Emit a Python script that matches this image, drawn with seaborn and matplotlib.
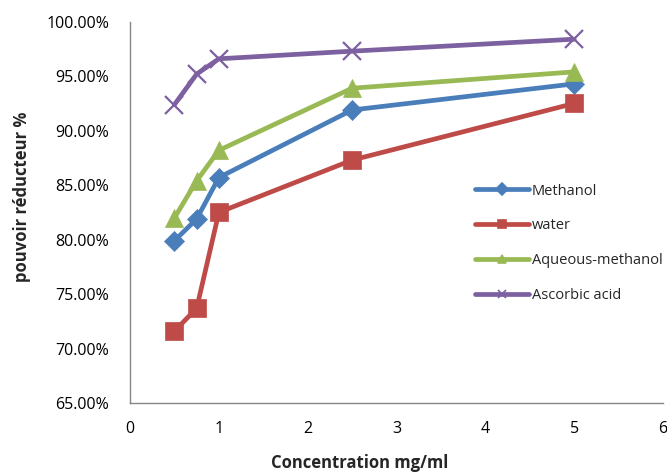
import matplotlib
matplotlib.use("Agg")
import matplotlib.pyplot as plt
from matplotlib.lines import Line2D
from matplotlib.ticker import FuncFormatter, MultipleLocator
import pandas as pd
import seaborn as sns

# Concentrations (mg/ml)
concentration = [0.5, 0.75, 1, 2.5, 5]

# Reducing power (%) per extract
methanol = [79.9, 81.9, 85.7, 91.9, 94.3]
water = [71.6, 73.7, 82.5, 87.3, 92.5]
aqueous_methanol = [82.0, 85.4, 88.2, 93.9, 95.4]
ascorbic_acid = [92.4, 95.2, 96.6, 97.3, 98.4]

series_names = ["Methanol", "water", "Aqueous-methanol", "Ascorbic acid"]
series_values = [methanol, water, aqueous_methanol, ascorbic_acid]
colors = ["#4A7EBB", "#BE4B48", "#98B954", "#7D60A0"]
markers = ["D", "s", "^", "x"]
marker_sizes = [10, 13, 13, 13]

sns.set_style("white")
plt.rcParams["font.family"] = ["Open Sans", "DejaVu Sans"]

fig = plt.figure(figsize=(6.67, 4.73), dpi=100)
ax = fig.add_axes([0.195, 0.148, 0.799, 0.806])

for name, vals, col, mk, ms in zip(series_names, series_values, colors, markers, marker_sizes):
    df = pd.DataFrame({"x": concentration, "y": vals})
    sns.lineplot(data=df, x="x", y="y", ax=ax, color=col, linewidth=3.4,
                 marker=mk, markersize=ms, markeredgecolor=col,
                 markeredgewidth=1.6 if mk == "x" else 0.5, label=None)

ax.set_xlim(0, 6)
ax.set_ylim(65, 100)
ax.xaxis.set_major_locator(MultipleLocator(1))
ax.yaxis.set_major_locator(MultipleLocator(5))
ax.yaxis.set_major_formatter(FuncFormatter(lambda v, p: f"{v:.2f}%"))

for side in ["top", "right"]:
    ax.spines[side].set_visible(False)
for side in ["left", "bottom"]:
    ax.spines[side].set_color("#868686")
    ax.spines[side].set_linewidth(1.0)
ax.tick_params(axis="both", direction="out", length=4, width=1.0, color="#868686",
               labelsize=11.5, labelcolor="#000000")
ax.tick_params(axis="y", pad=11)
ax.tick_params(axis="x", pad=9)

ax.set_xlabel("Concentration mg/ml", fontsize=12, fontweight="bold")
ax.set_ylabel("pouvoir réducteur %", fontsize=12, fontweight="bold")
ax.xaxis.set_label_coords(0.43, -0.157)
ax.yaxis.set_label_coords(-0.203, 0.541)
ax.xaxis.label.set_verticalalignment("center")
ax.yaxis.label.set_verticalalignment("center")

handles = [Line2D([0], [0], color=c, linewidth=3.4, marker=m, markersize=6,
                  markeredgecolor=c, markeredgewidth=1.2)
           for c, m in zip(colors, markers)]
ax.legend(handles, series_names, loc="upper left", bbox_to_anchor=(0.622, 0.61),
          frameon=False, fontsize=10.5, handlelength=3.7, handletextpad=0.2,
          labelspacing=1.35)

fig.savefig("out.png", dpi=100)
